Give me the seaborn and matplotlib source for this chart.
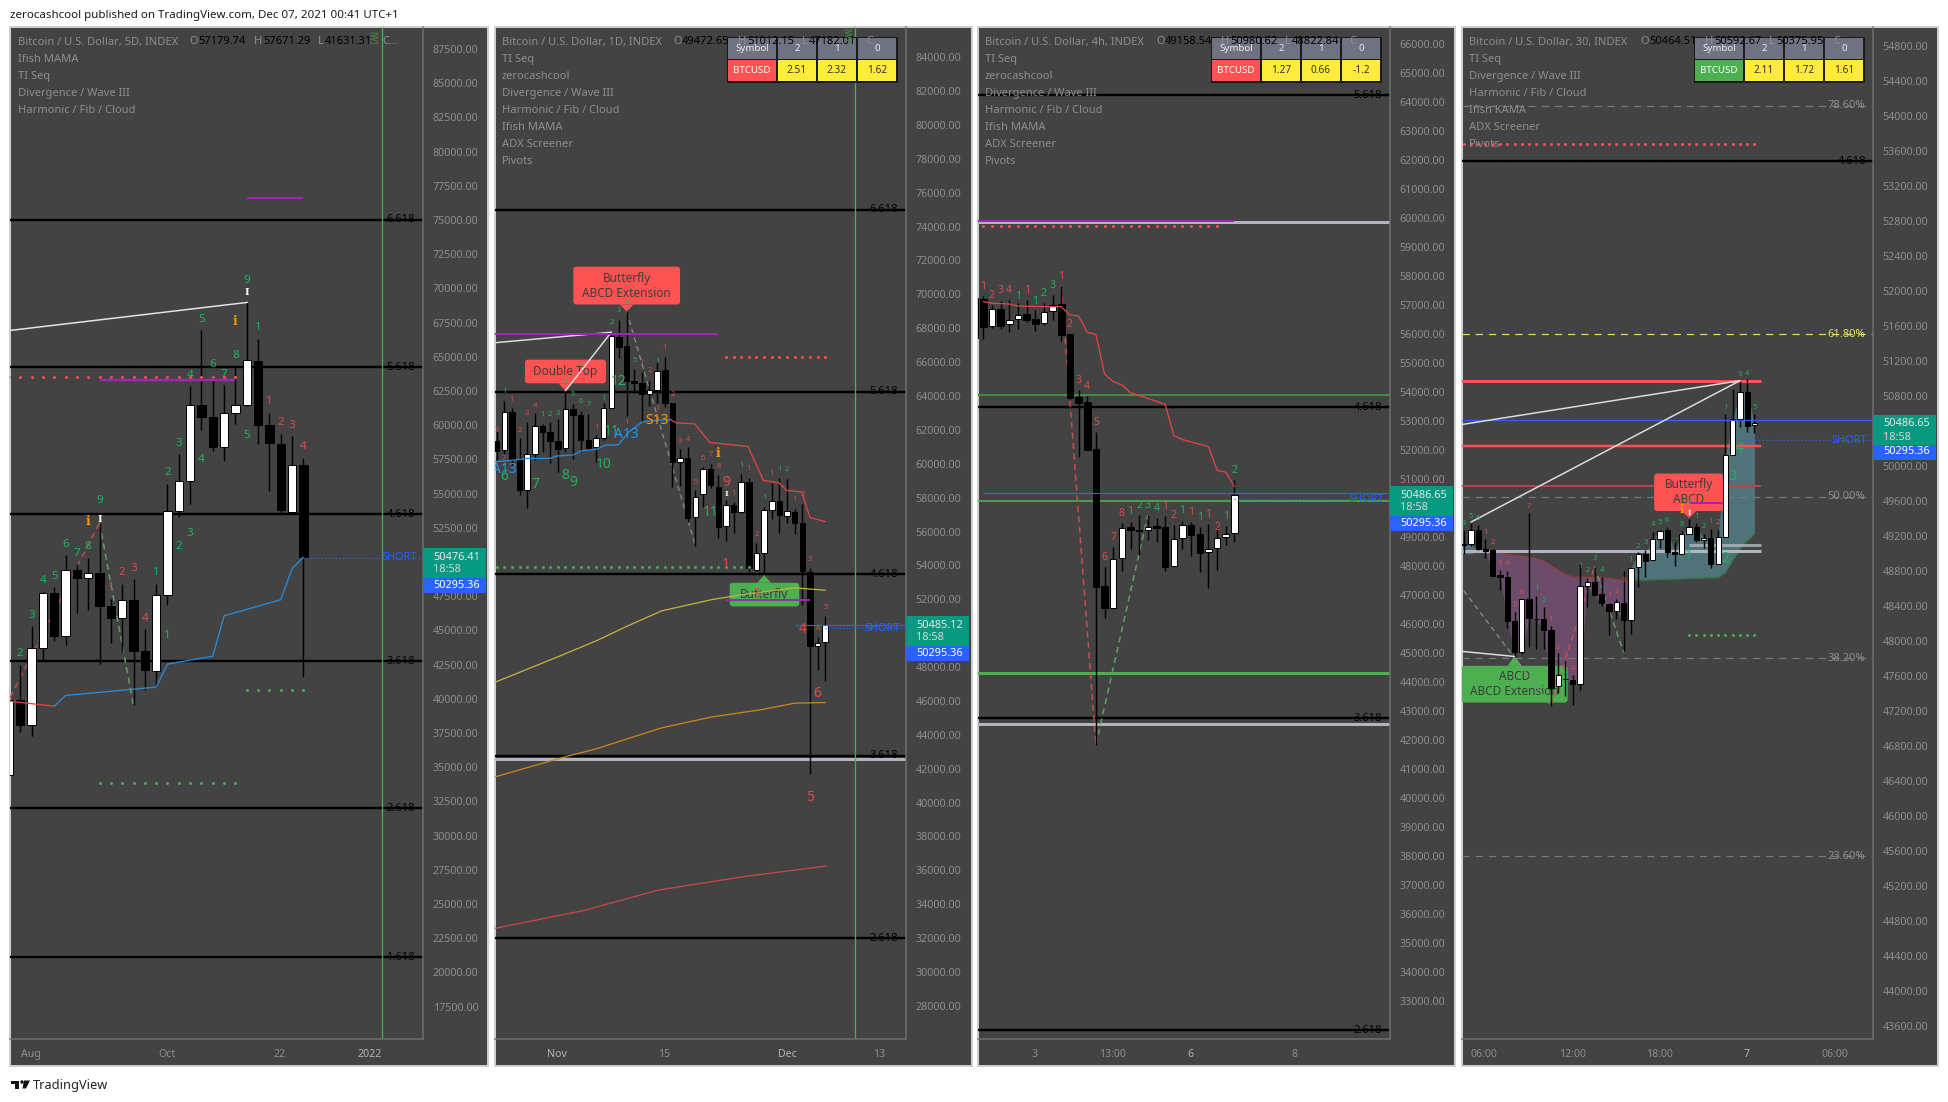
import numpy as np
import matplotlib
matplotlib.use("Agg")
import matplotlib.pyplot as plt
from matplotlib.patches import FancyBboxPatch, Rectangle, Circle, Polygon
import seaborn as sns

sns.set_style("dark", rc={"axes.grid": False})
plt.rcParams['font.family'] = ['Noto Sans', 'DejaVu Sans']

W, H = 1949, 1102
BG = '#434343'; AXC = '#6e6e6e'; TXT = '#8e8e8e'
GREEN = '#1fb35c'; RED = '#e04b4b'; BLUE = '#2962ff'; BOXRED = '#ff5252'; BOXGREEN = '#4caf50'
MAG = '#9c27b0'; GREY = '#b2b5be'

# ---------- panel 1 (5D)
p1_high = [40200,42486,45289,47799,48164,50480,49822,50309,52868,47312,48408,48725,45069,48408,55719,57864,62835,66929,63566,62908,64176,68976,66320,60910,59375,59180,57620]
p1_top  = [39930,39927,43705,47750,47750,49407,49432,49188,49212,46800,47214,47238,43510,47580,53721,55914,61470,61495,60618,60886,61470,64760,64712,60033,58644,57084,57108]
p1_bot  = [34400,38075,38100,43705,44582,44606,48822,48847,46775,45898,45922,43485,42096,42048,47604,53745,55939,60593,58400,58424,60910,61495,60008,58692,53794,53672,50358]
p1_low  = [34400,37564,37271,42803,44217,43924,46264,46459,42511,44070,43412,39513,40659,40853,46824,53282,54208,59618,58107,57376,60057,61397,58619,55183,53526,53526,41585]
p1_up   = [1,0,1,1,0,1,0,1,0,0,1,0,0,1,1,1,1,0,0,1,1,1,0,0,0,1,0]
p1_blue_x = [3,4,12,13,17,18,23,24,25]
p1_blue_y = [39464,40244,40853,42535,43120,46069,47238,49505,50358]
p1_red_x = [-0.88,0,3]
p1_red_y = [39830,39733,39464]
p1_green = [(0,43290,'2'),(1,46093,'3'),(2,48652,'4'),(3,48944,'5'),(4,51284,'6'),(5,50601,'7'),(6,51138,'8'),(7,54501,'9'),(12,49237,'1'),(13,44655,'1'),(14,51113,'2'),(15,52064,'3'),(13,56548,'2'),(14,58668,'3'),(16,57474,'4'),(15,63664,'4'),(16,67734,'5'),(17,64419,'6'),(18,63713,'7'),(19,65102,'8'),(20,70560,'9'),(21,67149,'1'),(20,59228,'5')]
p1_red = [(8,48116,'1'),(9,49237,'2'),(10,49529,'3'),(11,45874,'4'),(22,61739,'1'),(23,60203,'2'),(24,59984,'3'),(25,58473,'4')]

# ---------- panel 2 (1D)
p2_high = [61916,63713,63273,61517,62495,62974,62375,62455,62615,64311,63553,63114,62954,61717,63613,67764,68483,69002,65609,65409,64870,66008,66307,63613,60858,61018,58423,59820,59980,59321,57864,57725,59421,59162,55329,57465,58882,59182,59122,57325,57625,53832,49800,51038]
p2_top  = [61317,63054,63074,60279,60559,62236,62256,61896,61357,63214,63234,62874,61417,61517,63273,67545,67505,66926,64890,64770,64331,65469,65509,63593,60319,60359,58024,59681,59701,58623,57565,57565,58902,58922,54731,57246,57804,57804,57206,57166,56507,53613,49421,50479]
p2_bot  = [60778,60818,60220,58423,58463,60559,61856,61317,60898,60938,62854,61377,60958,60998,61517,63293,66886,64870,64751,64112,64132,64351,63573,60080,60120,56826,56866,58224,58723,56248,56327,57126,57146,53832,53733,54731,57266,56966,56926,56487,53673,49242,49242,49481]
p2_low  = [60220,60579,59920,58164,57365,60220,60719,60020,59521,60679,60260,60719,60818,60120,61377,63293,66248,62814,64172,62455,63413,63613,63373,58623,58663,56567,55170,57425,58583,55629,55429,55928,57106,53593,53673,53533,56767,55928,56527,55828,51637,41657,47844,47186]
p2_up   = [0,1,0,0,1,1,0,0,0,1,0,0,0,1,1,1,0,0,0,0,1,1,0,0,1,0,1,1,0,0,1,0,1,0,1,1,1,0,1,0,0,0,1,1]
p2_yellow_x = [-0.2,8,13,17.2,21.6,28.1,33,39,43]
p2_yellow_y = [47106,48603,49541,50439,51317,51976,52335,52675,52535]
p2_orange_x = [-0.2,8.9,12.9,21.6,28.1,34.7,39,43]
p2_orange_y = [41517,42695,43154,44411,45050,45489,45868,45908]
p2_long_x = [-0.3,11.5,21.2,32.6,43.2]
p2_long_y = [32566,33640,34838,35646,36255]
p2_redma_x = [22.7,23.5,25.9,27.9,32.9,34.9,36.9,38,39.9,41,43]
p2_redma_y = [62615,62415,62355,61258,61018,59022,58882,58423,58343,56826,56587]
p2_blue_x = [-0.2,2.4,4.1,7,7.85,10,11.1,13.1,14.2,15.9,17.4,19,19.6,22.7]
p2_blue_y = [60120,60220,60319,60319,60459,60519,60759,60858,61098,61118,61916,62455,62515,62615]
p2_red = [(0,61976,'3'),(2,63772,'1'),(3,61976,'2'),(4,62974,'3'),(5,63453,'4'),(13,62116,'1'),(19,65968,'1'),(20,65489,'2'),(22,66846,'1'),(23,64112,'2'),(24,61337,'3'),(25,61457,'4'),(26,58922,'5'),(27,60319,'6'),(28,60519,'7'),(29,59820,'8'),(31,58224,'1'),(33,59701,'1'),(36,59401,'1'),(39,57864,'1'),(40,58184,'2'),(41,54371,'3'),(42,50299,'4'),(43,51537,'5'),(34,55828,'2'),(17,62415,'1'),(21,63254,'1'),(1,60319,'7')]
p2_green = [(1,64252,'1'),(6,62894,'1'),(7,62934,'2'),(8,62974,'3'),(10,64072,'5'),(11,63653,'6'),(12,63493,'7'),(14,63832,'1'),(15,68323,'2'),(16,69022,'3'),(17,69501,'4'),(18,66108,'5'),(21,66008,'1'),(32,59920,'1'),(35,57984,'1'),(37,59681,'1'),(38,59641,'2'),(9,64810,'4')]
p2_big_green = [(15,61916,'11'),(16,64870,'12'),(14,59980,'10'),(5,58802,'7'),(9,59281,'8'),(10,58882,'9'),(28,57126,'11'),(1,59222,'6')]
p2_big_red = [(30,58882,'9'),(30,54072,'1'),(40,50240,'4'),(42,46447,'6'),(41,40328,'5'),(34,52276,'3')]

# ---------- panel 3 (4h)
p3_high = [57500,57311,56989,57150,57173,57058,57173,56828,57058,57345,57655,56000,54070,53864,52623,47958,48670,49474,49532,49762,49762,49647,49727,49417,49566,49509,49337,49451,49360,49382,50968]
p3_top  = [57242,57196,56851,56851,56495,56667,56679,56506,56771,57012,57023,55989,53818,53645,52025,47303,48256,49325,49337,49244,49360,49371,49337,48946,49428,49428,49095,48601,48969,49118,50463]
p3_bot  = [55851,56254,56265,56288,56334,56506,56495,56357,56368,56782,55978,53806,53622,52014,47291,46567,46544,48268,49233,49210,49233,49325,47981,47992,48957,49084,48463,48475,48613,48992,49130]
p3_low  = [55851,55840,56196,56162,56081,56162,56426,56116,56322,56483,55771,53749,51772,51991,41834,46223,46533,47843,48601,48383,48900,48831,47843,47981,48601,48360,47808,47257,47866,48728,48842]
p3_up   = [1,0,1,0,1,1,0,0,1,1,0,0,0,0,0,0,1,1,0,0,1,0,0,1,1,0,0,1,1,1,1]
p3_red_x = [0,1,3,4,7,9,10,11,12,13,14,15,16,17,21,22,23,26,27,28,29]
p3_red_y = [57115,57058,57035,56966,56943,56943,56656,56621,56058,55989,54622,54358,54243,53978,53576,52496,52358,52117,51301,51232,50738]
p3_red_lab = [(0,57632,'1'),(1,57334,'2'),(2,57494,'3'),(3,57506,'4'),(5,57494,'1'),(9,57989,'1'),(10,56334,'2'),(11,54404,'3'),(12,54197,'4'),(13,52956,'5'),(14,48302,'6'),(15,48992,'7'),(16,49819,'8'),(21,50049,'1'),(22,49750,'2'),(24,49842,'1'),(26,49773,'1'),(27,49337,'2')]
p3_green_lab = [(4,57299,'1'),(6,57127,'1'),(7,57403,'2'),(8,57678,'3'),(17,49888,'1'),(18,50083,'2'),(19,50083,'3'),(20,49991,'4'),(23,49911,'1'),(25,49681,'1'),(28,49716,'1'),(29,51301,'2')]

# ---------- panel 4 (30)
p4_high = [49271,49348,49329,49168,49053,48813,48805,48328,48480,49466,48519,48385,48171,47858,47774,47610,48874,48721,48851,48729,48435,48480,48805,48832,49015,49042,49248,49271,49302,49187,49256,49397,49351,49225,49283,49271,50593,50876,50975,50990,50593]
p4_top  = [49111,49271,49271,49053,49034,48756,48733,48228,48477,48484,48255,48251,48125,47606,47571,47552,48626,48671,48671,48538,48427,48442,48435,48832,48996,48996,49164,49260,49271,49019,49222,49302,49306,49176,49180,49187,50127,50532,50841,50845,50486]
p4_bot  = [49099,49111,49046,49027,48748,48729,48225,47869,47873,48259,48247,48121,47468,47480,47560,47503,47506,48626,48523,48431,48339,48339,48236,48240,48847,48912,48927,49164,49015,48996,48996,49222,49149,49157,48882,48882,49187,50131,50532,50459,50463]
p4_low  = [48996,49080,49042,48947,48744,48587,48148,47820,47850,47927,47907,47907,47258,47411,47373,47273,47445,48385,48519,48404,48072,48247,47888,48079,48614,48729,48920,49065,48958,48855,48989,49218,49130,49065,48832,48878,49183,50123,50448,50390,50379]
p4_up   = [0,1,0,0,0,0,0,0,1,0,0,0,0,1,0,0,1,1,0,0,0,1,0,1,1,0,1,1,0,0,1,1,0,1,0,1,1,1,1,0,1]
p4_purple_x = list(range(3,24))
p4_purple_top = [49027,49020,49010,48989,48980,48970,48958,48940,48912,48860,48805,48760,48729,48727,48727,48727,48725,48715,48700,48691,48680]
p4_purple_bot = [49027,48748,48729,48225,47869,47873,48259,48247,48121,47468,47480,47560,47503,47506,48626,48523,48431,48339,48339,48236,48680]
p4_teal_x = list(range(23,41))
p4_teal_low = [48691,48695,48697,48700,48703,48706,48709,48712,48715,48718,48721,48723,48725,48786,48920,49053,49149,49225]
p4_teal_up = [48832,48996,48996,49164,49260,49271,49019,49222,49302,49306,49176,49180,49187,50127,50532,50841,50845,50486]
p4_green = [(0,49348,'4'),(1,49428,'5'),(2,49405,'6'),(16,48855,'1'),(17,48801,'2'),(18,48939,'3'),(19,48809,'4'),(10,48595,'1'),(11,48458,'2'),(23,48927,'1'),(24,49084,'2'),(25,49122,'3'),(26,49329,'4'),(27,49352,'5'),(28,49382,'6'),(29,49141,'7'),(30,49336,'8'),(31,49588,'9'),(32,49428,'1'),(33,49306,'2'),(36,50666,'1'),(38,51048,'3'),(39,51055,'4'),(40,50666,'5')]
p4_red = [(3,49245,'1'),(4,49130,'2'),(5,48889,'3'),(6,48882,'4'),(7,48412,'5'),(8,48557,'6'),(9,49542,'7'),(12,48251,'1'),(13,47930,'2'),(14,47850,'3'),(15,47686,'4'),(20,48515,'1'),(21,48561,'2'),(22,48687,'3'),(34,49363,'1'),(35,49352,'2')]
p4_big = [(31,48977,'1'),(36,48947,'2'),(37,49879,'3'),(38,50200,'4')]

fib_levels = {'6.618':75000,'5.618':64240,'4.618':53480,'3.618':42755,'2.618':32000,'1.618':21120}
short_price = 50295

def px(n):
    return n * 0.72

fig = plt.figure(figsize=(W/100, H/100), dpi=100, facecolor='white')
bg = fig.add_axes([0,0,1,1], zorder=0); bg.set_xlim(0,W); bg.set_ylim(H,0); bg.axis('off')
ov = fig.add_axes([0,0,1,1], zorder=5); ov.set_xlim(0,W); ov.set_ylim(H,0); ov.axis('off'); ov.patch.set_alpha(0)

panels = [(10,423,488),(495,906,972),(978,1390,1455),(1462,1873,1938)]
for l,d,r in panels:
    bg.add_patch(Rectangle((l,27),r-l,1039,fc=BG,ec='#cfcfcf',lw=px(2)))

def chart(l, d, xlim, ylim, step, fmt_ticks, xticks, xlabels, bold):
    ax = fig.add_axes([l/W, 1-1039/H, (d-l)/W, (1039-27)/H], zorder=1)
    ax.patch.set_alpha(0)
    ax._xl, ax._yl = xlim, ylim
    ax._ticks = fmt_ticks
    ax._xt = (xticks, xlabels, bold)
    return ax

def finish(ax):
    ax.set_xlim(*ax._xl); ax.set_ylim(*ax._yl)
    ax.set_xlabel(''); ax.set_ylabel('')
    ax.yaxis.tick_right()
    ax.set_yticks(ax._ticks)
    ax.set_yticklabels([f'{t:.2f}' for t in ax._ticks], fontsize=7.7, color=TXT)
    ax.tick_params(axis='y', length=0, pad=7)
    xt, xl, bold = ax._xt
    ax.set_xticks(xt); ax.set_xticklabels(xl, fontsize=7.6, color=TXT)
    ax.tick_params(axis='x', length=0, pad=7.2)
    for lab, b in zip(ax.get_xticklabels(), bold):
        if b:
            lab.set_fontweight('bold'); lab.set_color('#b4b4b4')
    for s in ('top','left'):
        ax.spines[s].set_visible(False)
    for s in ('right','bottom'):
        ax.spines[s].set_color(AXC); ax.spines[s].set_linewidth(px(1.5))

def candles(ax, start, high, top, bot, low, up, w):
    x = np.arange(start, start+len(high))
    high, top, bot, low = map(np.array, (high, top, bot, low))
    ax.vlines(x, low, high, colors='black', lw=px(1.4), zorder=3)
    cols = ['white' if u else 'black' for u in up]
    ax.bar(x, top-bot, bottom=bot, width=w, color=cols, edgecolor='black', lw=px(1), zorder=4)

def line(ax, x, y, c, lw=1.3, ls='-', z=5, alpha=1):
    sns.lineplot(x=x, y=y, ax=ax, color=c, lw=px(lw), linestyle=ls, estimator=None, sort=False,
                 legend=False, zorder=z, alpha=alpha)

def dots(ax, x, price, c, s=4.5):
    sns.scatterplot(x=list(x), y=[price]*len(list(x)), ax=ax, color=c, s=s, linewidth=0, zorder=5, legend=False)

def hl(ax, y, a, b, c, lw=2, z=2, alpha=1, ls='-'):
    ax.hlines(y, a, b, colors=c, lw=px(lw), zorder=z, alpha=alpha, linestyles=ls)

def labs(ax, items, c, fs, z=6, **kw):
    for x, y, t in items:
        ax.text(x, y, t, color=c, fontsize=fs, ha='center', va='center', zorder=z, clip_on=True, **kw)

def fibs(ax, d_l, names):
    for n in names:
        y = fib_levels[n]
        ax.axhline(y, color='black', lw=px(2.4), zorder=2)
        ax.text(d_l, y, n, transform=ax.get_yaxis_transform(), color='black', fontsize=8.1,
                ha='right', va='center', zorder=6, clip_on=True)

def short(ax, xstart, d_l):
    ax.plot([xstart, ax._xl[1]], [short_price, short_price], color=BLUE, lw=px(1.2), ls=(0,(1,2)), zorder=5)
    ax.text(d_l, short_price, 'SHORT', transform=ax.get_yaxis_transform(), color=BLUE, fontsize=7.9,
            ha='right', va='center', zorder=6, clip_on=True)

def callout(ax, x0, x1, y0, y1, ax_apex, ay_apex, text, fc, fs=8.5):
    # x0..x1 in bars, y0..y1 in price
    wpx = (ax.get_position().width*W) / (ax._xl[1]-ax._xl[0])
    hpx = (ax.get_position().height*H) / (ax._yl[1]-ax._yl[0])
    ax.add_patch(FancyBboxPatch((x0,y0), x1-x0, y1-y0, boxstyle=f'round,pad=0,rounding_size={3/wpx}',
                                mutation_aspect=wpx/hpx, fc=fc, ec='none', zorder=2.2))
    base = y1 if ay_apex > y1 else y0
    hw = 7/wpx
    ax.fill([ax_apex-hw, ax_apex+hw, ax_apex], [base, base, ay_apex], color=fc, lw=0, zorder=2.2)
    ax.text((x0+x1)/2, (y0+y1)/2, text, color='#3c3c3c', fontsize=fs, ha='center', va='center',
            zorder=2.4, linespacing=1.2, clip_on=True)

# ---- Panel 1
a1 = chart(10,423,(-0.91,35.57),(15132,89108),2500,list(range(17500,90000,2500)),
           [0.95,13,22.9,30.9],['Aug','Oct','22','2022'],[0,0,0,1])
candles(a1,-1,p1_high,p1_top,p1_bot,p1_low,p1_up,0.74)
fibs(a1,(415-10)/413,['6.618','5.618','4.618','3.618','2.618','1.618'])
line(a1,[-0.88,20.05],[66929,68976],'#e6e6e6',lw=1.5)
line(a1,[-0.88,7],[40122,52868],'#c24c4c',lw=1.5,ls=(0,(4,3)),z=2.5)
line(a1,[7,10],[52868,39513],'#5fa463',lw=1.5,ls=(0,(4,3)),z=2.5)
line(a1,p1_red_x,p1_red_y,'#e04545')
line(a1,p1_blue_x,p1_blue_y,'#2a8bd8')
dots(a1,range(-1,20),63542,'#ff5252')
dots(a1,range(20,26),40659,'#4caf50')
dots(a1,range(7,20),33845,'#4caf50')
hl(a1,63300,7,19,MAG,lw=2.5,z=5)
hl(a1,76608,20,25,MAG,lw=2,z=5)
a1.axvline(31.93,color='#4caf50',lw=px(1.3),zorder=2)
labs(a1,p1_green,GREEN,8.4)
labs(a1,p1_red,RED,8.4)
labs(a1,[(6,52985,'i'),(19,67600,'i')],'#ff9800',9,fontweight='bold',family='DejaVu Serif')
labs(a1,[(7,53100,'I'),(20,69700,'I')],'white',7,fontweight='bold',family='DejaVu Serif')
short(a1,25,(417-10)/413)
finish(a1)

# ---- Panel 2
a2 = chart(495,906,(-0.22,53.57),(26043,85783),2000,list(range(28000,86000,2000)),
           [7.9,21.9,38,50],['Nov','15','Dec','13'],[1,0,1,0])
candles(a2,0,p2_high,p2_top,p2_bot,p2_low,p2_up,0.72)
fibs(a2,(898-495)/411,['6.618','5.618','4.618','3.618','2.618'])
hl(a2,42595,-1,54,GREY,lw=3,z=2)
callout(a2,10.03,24,69401,71637,17,69002,'Butterfly\nABCD Extension',BOXRED)
callout(a2,3.7,14.3,64751,66148,9,64311,'Double Top',BOXRED)
callout(a2,30.5,39.6,51577,52974,35,53433,'Butterfly',BOXGREEN)
line(a2,p2_yellow_x,p2_yellow_y,'#c2b03f')
line(a2,p2_orange_x,p2_orange_y,'#c9851f')
line(a2,p2_long_x,p2_long_y,'#c44a4a')
line(a2,p2_redma_x,p2_redma_y,'#e04545')
line(a2,p2_blue_x,p2_blue_y,'#2a8bd8')
line(a2,[-0.2,15],[67146,67764],'#dddddd',lw=1.5)
line(a2,[9,15],[64311,67764],'#dddddd',lw=1.5)
line(a2,[17,26],[69002,55170],'#8a8a8a',lw=1.3,ls=(0,(4,3)),z=2.5)
hl(a2,67645,-1,29,MAG,lw=2,z=5)
hl(a2,51936,30,41,MAG,lw=2,z=5)
dots(a2,range(30,44),66307,'#ff5252')
dots(a2,range(0,34),53912,'#4caf50')
hl(a2,50470,39,54,BLUE,lw=1.2,z=5)
a2.axvline(46.87,color='#4caf50',lw=px(1.3),zorder=2)
labs(a2,p2_red,RED,5.4)
labs(a2,p2_green,GREEN,5.4)
labs(a2,p2_big_green,GREEN,10)
labs(a2,p2_big_red,RED,10)
labs(a2,[(1,59661,'A13'),(17,61737,'A13')],'#2196f3',10)
labs(a2,[(21,62575,'S13')],'#ff9800',10)
labs(a2,[(29,60619,'i')],'#ff9800',9,fontweight='bold',family='DejaVu Serif')
labs(a2,[(30,58224,'I')],'white',5.5,fontweight='bold',family='DejaVu Serif')
short(a2,43,(900-495)/411)
finish(a2)

# ---- Panel 3
a3 = chart(978,1390,(-0.61,46.96),(31690,66586),1000,list(range(33000,67000,1000)),
           [5.9,14.9,23.9,35.9],['3','13:00','6','8'],[0,0,1,0])
candles(a3,-1,p3_high,p3_top,p3_bot,p3_low,p3_up,0.76)
fibs(a3,(1382-978)/412,['5.618','4.618','3.618','2.618'])
hl(a3,59845,-1,47,GREY,lw=3)
hl(a3,53898,-1,47,'#3f8f43',lw=2)
hl(a3,50244,-1,47,'#4caf50',lw=2,alpha=0.85)
hl(a3,44304,-1,47,'#4caf50',lw=3)
hl(a3,42558,-1,47,GREY,lw=3)
hl(a3,59910,-1,29,MAG,lw=2,z=5)
hl(a3,50509,0,47,BLUE,lw=1.2,z=5)
dots(a3,range(0,28),59724,'#ff5252')
line(a3,[9,13],[57655,41834],'#d24c4c',lw=1.5,ls=(0,(4,3)),z=2.5)
line(a3,[13,19],[41834,49762],'#5fa463',lw=1.5,ls=(0,(4,3)),z=2.5)
line(a3,p3_red_x,p3_red_y,'#e04545')
labs(a3,p3_red_lab,RED,7.5)
labs(a3,p3_green_lab,GREEN,7.5)
short(a3,29,(1384-978)/412)
finish(a3)

# ---- Panel 4
a4 = chart(1462,1873,(-0.23,56.3),(43451,55017),400,list(range(43600,55000,400)),
           [2.8,14.95,27,38.9,51],['06:00','12:00','18:00','7','06:00'],[0,0,0,1,0])
a4.fill_between(p4_purple_x,p4_purple_bot,p4_purple_top,color='#6b4d6b',lw=0,zorder=1)
a4.fill_between(p4_teal_x,p4_teal_low,p4_teal_up,color='#4f7378',lw=0,zorder=1)
a4.fill_between([-0.2,0,1,2],[48996,48996,48996,49030],[49050,49100,49100,49040],color='#4f7378',lw=0,zorder=1)
candles(a4,0,p4_high,p4_top,p4_bot,p4_low,p4_up,0.72)
fibs(a4,(1866-1462)/411,['4.618'])
line(a4,p4_purple_x,p4_purple_top,'#a03a3a',lw=1.2,z=2)
line(a4,p4_teal_x,p4_teal_low,'#2f7a45',lw=1.2,z=2)
for y,c,lw,a,b,al in [(50967,BOXRED,3,-1,40.9,1),(50227,BOXRED,2.5,-1,40.9,1),(49768,'#b04848',2,-1,40.9,1),
                      (49027,GREY,3,-1,40.9,1),(49092,GREY,3,31,40.9,0.8)]:
    hl(a4,y,a,b,c,lw=lw,alpha=al)
hl(a4,50521,-1,57,BLUE,lw=1.3,z=5)
for y,c in [(54118,'#7a7a7a'),(51504,'#e6df55'),(49650,'#7a7a7a'),(47804,'#7a7a7a'),(45537,'#7a7a7a')]:
    a4.axhline(y,color=c,lw=px(1.2),ls=(0,(6,5)),zorder=1.5)
for y,t,c in [(54118,'78.60%',TXT),(51504,'61.80%','#e6df55'),(49650,'50.00%',TXT),(47804,'38.20%',TXT),(45537,'23.60%',TXT)]:
    a4.text((1865-1462)/411,y,t,transform=a4.get_yaxis_transform(),color=c,fontsize=8.1,ha='right',va='center',zorder=6)
callout(a4,26.2,35.7,49485,49913,31,49405,'Butterfly\nABCD',BOXRED)
callout(a4,-0.3,14.3,47296,47716,7,47831,'ABCD\nABCD Extension',BOXGREEN)
line(a4,[-0.25,38],[50474,50975],'#dddddd',lw=1.5)
line(a4,[1,38],[49359,50975],'#dddddd',lw=1.5)
line(a4,[-0.25,7],[47881,47823],'#dddddd',lw=1.5)
line(a4,[0,12],[48576,47258],'#8a8a8a',lw=1.3,ls=(0,(4,3)),z=2.5)
line(a4,[12,18],[47258,48851],'#d24c4c',lw=1.4,ls=(0,(4,3)),z=2.5)
line(a4,[18,22],[48851,47869],'#5fa463',lw=1.4,ls=(0,(4,3)),z=2.5)
hl(a4,49577,31,35.7,MAG,lw=2,z=5)
dots(a4,range(0,41),53680,'#ff5252')
dots(a4,range(31,41),48068,'#4caf50')
labs(a4,p4_green,GREEN,5.4)
labs(a4,p4_red,RED,5.4)
labs(a4,p4_big,GREEN,10)
labs(a4,[(30,49500,'i')],'#ff9800',8,fontweight='bold',family='DejaVu Serif')
labs(a4,[(31,49466,'I')],'white',5,fontweight='bold',family='DejaVu Serif')
short(a4,39,(1867-1462)/411)
finish(a4)

# ---- Screener tables
def table(d, vals, sym_c):
    L = d-179
    ov.add_patch(Rectangle((L,37),170,45,fc='#1a1a1a',ec='#1a1a1a',lw=px(1),zorder=2))
    cols = [(L+1,48),(L+51,38),(L+91,38),(L+131,38)]
    heads = ['Symbol','2','1','0']
    for (cx,cw),h in zip(cols,heads):
        ov.add_patch(Rectangle((cx,38),cw,21,fc='#6f7280',ec='none',zorder=3))
        ov.text(cx+cw/2,48.5,h,color='#ececec',fontsize=7,ha='center',va='center',zorder=4)
    ov.add_patch(Rectangle((cols[0][0],60),48,21,fc=sym_c,ec='none',zorder=3))
    ov.text(cols[0][0]+24,70.5,'BTCUSD',color='white',fontsize=7,ha='center',va='center',zorder=4)
    for (cx,cw),v in zip(cols[1:],vals):
        ov.add_patch(Rectangle((cx,60),cw,21,fc='#ffeb3b',ec='none',zorder=3))
        ov.text(cx+cw/2,70.5,v,color='#333333',fontsize=7.2,ha='center',va='center',zorder=4)

table(906,['2.51','2.32','1.62'],BOXRED)
table(1390,['1.27','0.66','-1.2'],BOXRED)
table(1873,['2.11','1.72','1.61'],BOXGREEN)

# ---- Legends
legend_title = ['Bitcoin / U.S. Dollar, 5D, INDEX','Bitcoin / U.S. Dollar, 1D, INDEX','Bitcoin / U.S. Dollar, 4h, INDEX','Bitcoin / U.S. Dollar, 30, INDEX']
ohlc = [('57179.74','57671.29','41631.31','C...'),('49472.65','51012.15','47182.01','C'),
        ('49158.54','50980.62','48822.84','C'),('50464.51','50592.67','50375.95','C')]
legend_rows = [['Ifish MAMA','TI Seq','Divergence / Wave III','Harmonic / Fib / Cloud'],
               ['TI Seq','zerocashcool','Divergence / Wave III','Harmonic / Fib / Cloud','Ifish MAMA','ADX Screener','Pivots'],
               ['TI Seq','zerocashcool','Divergence / Wave III','Harmonic / Fib / Cloud','Ifish MAMA','ADX Screener','Pivots'],
               ['TI Seq','Divergence / Wave III','Harmonic / Fib / Cloud','Ifish KAMA','ADX Screener','Pivots']]
lfs = 8.0
for x0,t,o,rows in zip([18,502,985,1469],legend_title,ohlc,legend_rows):
    ov.text(x0,42,t,color=TXT,fontsize=lfs,va='center',zorder=6)
    ov.text(x0+171,42,'O',color=TXT,fontsize=lfs,va='center',zorder=6)
    ov.text(x0+180,42,o[0],color='black',fontsize=lfs,va='center',zorder=6)
    ov.text(x0+236,42,'H',color=TXT,fontsize=lfs,va='center',zorder=6)
    ov.text(x0+245,42,o[1],color='black',fontsize=lfs,va='center',zorder=6)
    ov.text(x0+300,42,'L',color=TXT,fontsize=lfs,va='center',zorder=6)
    ov.text(x0+307,42,o[2],color='black',fontsize=lfs,va='center',zorder=6)
    ov.text(x0+364,42,o[3],color=TXT,fontsize=lfs,va='center',zorder=6)
    for i,r in enumerate(rows):
        ov.text(x0,59.5+17*i,r,color=TXT,fontsize=lfs,va='center',zorder=6)

# ---- Last-price tags
tags = [(423,548,'50476.41'),(906,616,'50485.12'),(1390,486,'50486.65'),(1873,415,'50486.65')]
for d,y,p in tags:
    ov.add_patch(Rectangle((d,y),63,30,fc='#089981',ec='none',zorder=5))
    ov.add_patch(Rectangle((d,y+30),63,15,fc=BLUE,ec='none',zorder=5))
    ov.text(d+10,y+9,p,color='#e8e8e8',fontsize=7.9,va='center',zorder=6)
    ov.text(d+10,y+22,'18:58',color='#d8d8d8',fontsize=7.9,va='center',zorder=6)
    ov.text(d+10,y+37,'50295.36',color='white',fontsize=7.9,va='center',zorder=6)

# ---- [W] marks
ov.text(373,38,'[W]',color='#3f8f43',fontsize=6,rotation=270,ha='center',va='center',zorder=6)
ov.text(847,35,'[W]',color='#3f8f43',fontsize=6,rotation=270,ha='center',va='center',zorder=6)

# ---- Header / footer
ov.text(10,15.5,'zerocashcool published on TradingView.com, Dec 07, 2021 00:41 UTC+1',color='#1a1a1a',fontsize=8.3,va='center')
ov.add_patch(Rectangle((11,1080.5),8.5,3,fc='#111111',ec='none'))
ov.add_patch(Rectangle((15.5,1080.5),4,8,fc='#111111',ec='none'))
ov.add_patch(Circle((22,1082),1.7,fc='#111111',ec='none'))
ov.add_patch(Polygon([(24,1080.5),(30,1080.5),(26,1088.5),(22.5,1088.5)],closed=True,fc='#111111',ec='none'))
ov.text(33,1086,'TradingView',color='#222222',fontsize=9.2,va='center')

fig.savefig('out.png', dpi=100, facecolor='white')
